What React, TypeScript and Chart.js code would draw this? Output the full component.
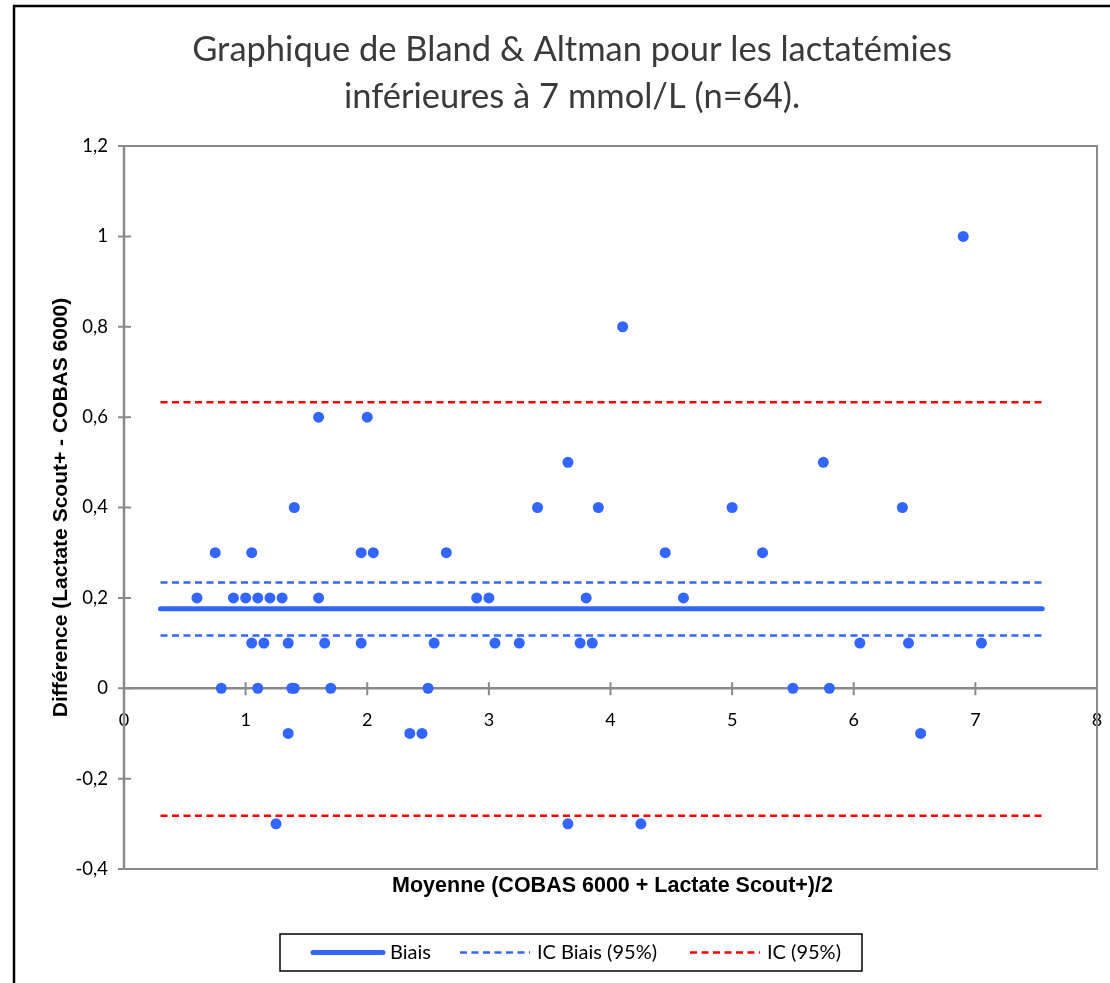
import React, { useEffect, useRef } from 'react';
import { Chart, registerables } from 'chart.js';

Chart.register(...registerables);

// ---- Data ----
const meanValues: number[] = [
  6.9, 4.1, 1.6, 2.0, 3.65, 5.75,
  1.4, 3.4, 3.9, 5.0, 6.4,
  0.75, 1.05, 1.95, 2.05, 2.65, 4.45, 5.25,
  0.6, 0.9, 1.0, 1.1, 1.2, 1.3, 1.6, 2.9, 3.0, 3.8, 4.6,
  1.05, 1.15, 1.35, 1.65, 1.95, 2.55, 3.05, 3.25, 3.75, 3.85, 6.05, 6.45, 7.05,
  0.8, 1.1, 1.38, 1.4, 1.7, 2.5, 5.5, 5.8,
  1.35, 2.35, 2.45, 6.55,
  1.25, 3.65, 4.25,
];
const diffValues: number[] = [
  1.0, 0.8, 0.6, 0.6, 0.5, 0.5,
  0.4, 0.4, 0.4, 0.4, 0.4,
  0.3, 0.3, 0.3, 0.3, 0.3, 0.3, 0.3,
  0.2, 0.2, 0.2, 0.2, 0.2, 0.2, 0.2, 0.2, 0.2, 0.2, 0.2,
  0.1, 0.1, 0.1, 0.1, 0.1, 0.1, 0.1, 0.1, 0.1, 0.1, 0.1, 0.1, 0.1,
  0, 0, 0, 0, 0, 0, 0, 0,
  -0.1, -0.1, -0.1, -0.1,
  -0.3, -0.3, -0.3,
];

const lineRangeX: number[] = [0.3, 7.55];
const biasValue = 0.176;
const icBiaisValues: number[] = [0.234, 0.117];
const icValues: number[] = [0.633, -0.282];

const xTickValues: number[] = [0, 1, 2, 3, 4, 5, 6, 7, 8];
const xTickLabels: string[] = ['0', '1', '2', '3', '4', '5', '6', '7', '8'];
const yTickValues: number[] = [-0.4, -0.2, 0, 0.2, 0.4, 0.6, 0.8, 1, 1.2];
const yTickLabels: string[] = ['-0,4', '-0,2', '0', '0,2', '0,4', '0,6', '0,8', '1', '1,2'];

const titleLines: string[] = [
  'Graphique de Bland & Altman pour les lactatémies',
  'inférieures à 7 mmol/L (n=64).',
];
const xAxisTitle = 'Moyenne (COBAS 6000 + Lactate Scout+)/2';
const yAxisTitle = 'Différence (Lactate Scout+ - COBAS 6000)';
const legendLabels: string[] = ['Biais', 'IC Biais (95%)', 'IC (95%)'];

// ---- Styles ----
const BLUE = '#3366FF';
const RED = '#FF0000';
const AXIS_GRAY = '#8a8a8a';
const GILL = 'Lato, "Open Sans", sans-serif';
const ARIAL = '"Liberation Sans", Arial, sans-serif';
const DASH = [7, 4.5];

const decorPlugin = {
  id: 'decor',
  beforeDatasetsDraw(chart: any) {
    const { ctx, chartArea: a, scales } = chart;
    const x = scales.x;
    const y = scales.y;
    ctx.save();
    ctx.strokeStyle = AXIS_GRAY;
    ctx.lineWidth = 2;
    ctx.strokeRect(a.left, a.top, a.right - a.left, a.bottom - a.top);
    const y0 = y.getPixelForValue(0);
    ctx.lineWidth = 2.5;
    ctx.beginPath();
    ctx.moveTo(a.left, y0);
    ctx.lineTo(a.right, y0);
    ctx.moveTo(a.left, a.top);
    ctx.lineTo(a.left, a.bottom);
    ctx.stroke();
    ctx.lineWidth = 2;
    ctx.beginPath();
    yTickValues.forEach((v) => {
      const p = y.getPixelForValue(v);
      ctx.moveTo(a.left - 6, p);
      ctx.lineTo(a.left + 7, p);
    });
    xTickValues.forEach((v) => {
      const p = x.getPixelForValue(v);
      ctx.moveTo(p, y0 - 6);
      ctx.lineTo(p, y0 + 7);
    });
    ctx.stroke();
    ctx.restore();
  },
  afterDraw(chart: any) {
    const { ctx, chartArea: a } = chart;
    ctx.save();
    // outer frame
    ctx.strokeStyle = '#000';
    ctx.lineWidth = 2.5;
    ctx.strokeRect(14, 6, 1200, 1100);

    // title
    ctx.fillStyle = '#3a3a3a';
    ctx.font = `34.5px ${GILL}`;
    ctx.textAlign = 'center';
    ctx.textBaseline = 'middle';
    ctx.fillText(titleLines[0], 572, 50);
    ctx.fillText(titleLines[1], 572, 97);

    // x axis title
    ctx.fillStyle = '#000';
    ctx.font = `bold 21.5px ${ARIAL}`;
    ctx.fillText(xAxisTitle, (a.left + a.right) / 2 + 2, 886);

    // legend
    const lx = 280, ly = 934, lw = 582, lh = 37;
    ctx.lineWidth = 1.5;
    ctx.strokeStyle = '#000';
    ctx.strokeRect(lx, ly, lw, lh);
    const cy = ly + lh / 2;
    const items = [
      { x0: 313, color: BLUE, w: 5, dash: [] as number[], text: legendLabels[0] },
      { x0: 460, color: BLUE, w: 2.5, dash: DASH, text: legendLabels[1] },
      { x0: 690, color: RED, w: 2.5, dash: DASH, text: legendLabels[2] },
    ];
    ctx.font = `20px ${GILL}`;
    ctx.textAlign = 'left';
    items.forEach((it) => {
      ctx.beginPath();
      ctx.strokeStyle = it.color;
      ctx.lineWidth = it.w;
      ctx.lineCap = it.dash.length ? 'butt' : 'round';
      ctx.setLineDash(it.dash);
      ctx.moveTo(it.x0, cy);
      ctx.lineTo(it.x0 + 70, cy);
      ctx.stroke();
      ctx.setLineDash([]);
      ctx.fillStyle = '#000';
      ctx.fillText(it.text, it.x0 + 77, cy);
    });
    ctx.restore();
  },
};

function hLine(value: number, color: string, width: number, dash: number[], label: string) {
  return {
    type: 'line' as const,
    label,
    data: lineRangeX.map((xv) => ({ x: xv, y: value })),
    borderColor: color,
    borderWidth: width,
    borderDash: dash,
    borderCapStyle: dash.length ? ('butt' as const) : ('round' as const),
    pointRadius: 0,
    showLine: true,
    fill: false,
  };
}

export default function App() {
  const canvasRef = useRef<HTMLCanvasElement | null>(null);

  useEffect(() => {
    const canvas = canvasRef.current;
    if (!canvas) return;
    const points = meanValues.map((m, i) => ({ x: m, y: diffValues[i] }));
    const chart = new Chart(canvas, {
      type: 'scatter',
      data: {
        datasets: [
          {
            type: 'scatter',
            label: 'Points',
            data: points,
            backgroundColor: BLUE,
            borderWidth: 0,
            pointRadius: 5.5,
            pointHoverRadius: 5.5,
          } as any,
          hLine(biasValue, BLUE, 5, [], legendLabels[0]),
          hLine(icBiaisValues[0], BLUE, 2.5, DASH, legendLabels[1]),
          hLine(icBiaisValues[1], BLUE, 2.5, DASH, legendLabels[1]),
          hLine(icValues[0], RED, 2.5, DASH, legendLabels[2]),
          hLine(icValues[1], RED, 2.5, DASH, legendLabels[2]),
        ],
      },
      options: {
        responsive: false,
        animation: false,
        events: [],
        layout: { padding: { left: 0, top: 146, right: 13, bottom: 114 } },
        plugins: {
          legend: { display: false },
          title: { display: false },
          tooltip: { enabled: false },
        },
        scales: {
          x: {
            type: 'linear',
            min: 0,
            max: 8,
            position: { y: 0 } as any,
            grid: { display: false },
            border: { display: false },
            afterBuildTicks: (s: any) => {
              s.ticks = xTickValues.map((v) => ({ value: v }));
            },
            afterFit: (s: any) => {
              s.paddingLeft = 0;
              s.paddingRight = 0;
            },
            ticks: {
              padding: 13,
              color: '#000',
              font: { family: GILL, size: 18 },
              maxRotation: 0,
              autoSkip: false,
              callback: (_v: any, i: number) => xTickLabels[i],
            },
          },
          y: {
            type: 'linear',
            min: -0.4,
            max: 1.2,
            position: 'left',
            grid: { display: false },
            border: { display: false },
            afterBuildTicks: (s: any) => {
              s.ticks = yTickValues.map((v) => ({ value: v }));
            },
            afterFit: (s: any) => {
              s.width = 124;
              s.paddingTop = 0;
              s.paddingBottom = 0;
            },
            ticks: {
              padding: 8,
              color: '#000',
              font: { family: GILL, size: 18.5 },
              autoSkip: false,
              callback: (_v: any, i: number) => yTickLabels[i],
            },
            title: {
              display: true,
              text: yAxisTitle,
              color: '#000',
              font: { family: ARIAL, size: 21, weight: 'bold' },
              padding: { top: 49, bottom: 0 },
            },
          },
        },
      } as any,
      plugins: [decorPlugin],
    });
    return () => chart.destroy();
  }, []);

  return (
    <canvas
      ref={canvasRef}
      width={1110}
      height={983}
      style={{ position: 'absolute', left: 0, top: 0, width: 1110, height: 983 }}
    />
  );
}
